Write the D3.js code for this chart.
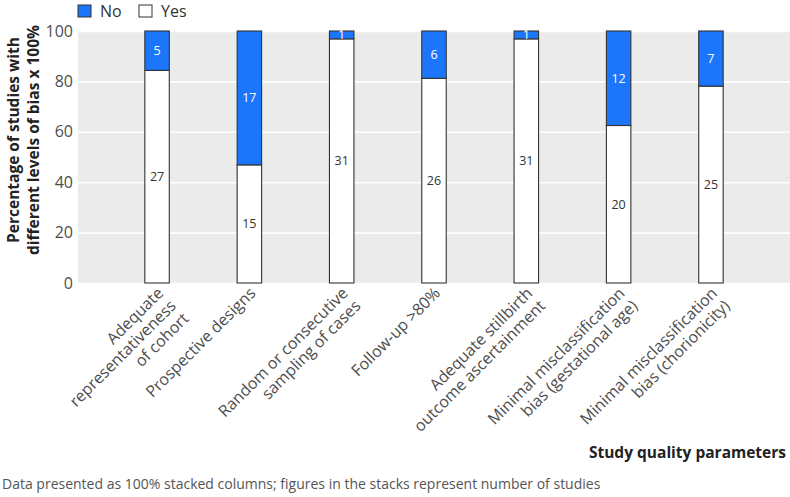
<!DOCTYPE html>
<html>
<head>
<meta charset="utf-8">
<script src="https://cdn.jsdelivr.net/npm/d3@7/dist/d3.min.js"></script>
<style>
  body { margin: 0; background: #fff; }
  svg { display: block; font-family: "Open Sans", sans-serif; }
</style>
</head>
<body>
<svg id="chart" width="790" height="497"></svg>
<script>
const categories = [
  ["Adequate", "representativeness", "of cohort"],
  ["Prospective designs"],
  ["Random or consecutive", "sampling of cases"],
  ["Follow-up >80%"],
  ["Adequate stillbirth", "outcome ascertainment"],
  ["Minimal misclassification", "bias (gestational age)"],
  ["Minimal misclassification", "bias (chorionicity)"]
];
const yesValues = [27, 15, 31, 26, 31, 20, 25];
const noValues = [5, 17, 1, 6, 1, 12, 7];
const yTicks = [0, 20, 40, 60, 80, 100];
const seriesNames = ["Yes", "No"];
const colors = { No: "#1b76fc", Yes: "#ffffff" };

const svg = d3.select("#chart");
const plot = { left: 78, right: 790, top: 31, bottom: 283 };

const rows = categories.map((c, i) => ({ key: i, Yes: yesValues[i], No: noValues[i] }));
const stacked = d3.stack().keys(seriesNames).offset(d3.stackOffsetExpand)(rows);

const x = d3.scaleBand()
  .domain(rows.map(d => d.key))
  .range([plot.left, plot.right])
  .paddingInner(0.735)
  .paddingOuter(0.724);
const y = d3.scaleLinear().domain([0, 100]).range([plot.bottom, plot.top]);

// background
svg.append("rect")
  .attr("x", plot.left).attr("y", plot.top)
  .attr("width", plot.right - plot.left).attr("height", plot.bottom - plot.top)
  .attr("fill", "#ebebeb");

// grid lines + y tick labels
const yAxis = d3.axisLeft(y).tickValues(yTicks).tickSize(-(plot.right - plot.left)).tickPadding(5).tickFormat(d3.format("d"));
const gy = svg.append("g").attr("transform", `translate(${plot.left},0)`).call(yAxis);
gy.select(".domain").remove();
gy.selectAll(".tick line").attr("stroke", "#fff").attr("stroke-width", 1.6);
gy.selectAll(".tick text").attr("font-size", 16).attr("fill", "#4d4d4d")
  .attr("font-family", "Open Sans, sans-serif");

// bars
const layers = svg.append("g").selectAll("g").data(stacked).join("g")
  .attr("fill", d => colors[d.key]);
layers.selectAll("rect").data(d => d).join("rect")
  .attr("x", d => x(d.data.key))
  .attr("width", x.bandwidth())
  .attr("y", d => y(d[1] * 100))
  .attr("height", d => y(d[0] * 100) - y(d[1] * 100))
  .attr("stroke", "#333")
  .attr("stroke-width", 1.1);

// segment labels
stacked.forEach(layer => {
  svg.append("g").selectAll("text").data(layer).join("text")
    .attr("x", d => x(d.data.key) + x.bandwidth() / 2)
    .attr("y", d => y((d[0] + d[1]) / 2 * 100))
    .attr("text-anchor", "middle")
    .attr("dominant-baseline", "central")
    .attr("font-size", 12.5)
    .attr("fill", layer.key === "No" ? "#fff" : "#333")
    .text(d => d.data[layer.key]);
});

// x axis labels
const xl = svg.append("g").selectAll("g").data(rows).join("g")
  .attr("transform", d => `translate(${x(d.key) + x.bandwidth() / 2 - 2},${plot.bottom + 2}) rotate(-45)`);
xl.each(function (d) {
  const g = d3.select(this);
  categories[d.key].forEach((line, j) => {
    g.append("text")
      .attr("x", 0)
      .attr("y", 13 + j * 18)
      .attr("text-anchor", "end")
      .attr("font-size", 16)
      .attr("fill", "#4d4d4d")
      .text(line);
  });
});

// y title
const yt = svg.append("g").attr("transform", "translate(0,140) rotate(-90)");
["Percentage of studies with", "different levels of bias x 100%"].forEach((t, i) => {
  yt.append("text").attr("x", 0).attr("y", 19 + i * 20)
    .attr("text-anchor", "middle").attr("font-weight", "bold").attr("font-size", 15.5)
    .attr("fill", "#222").text(t);
});

// x title
svg.append("text").attr("x", 786).attr("y", 458).attr("text-anchor", "end")
  .attr("font-weight", "bold").attr("font-size", 15.5).attr("fill", "#222")
  .text("Study quality parameters");

// footnote
svg.append("text").attr("x", 2).attr("y", 489)
  .attr("font-size", 14).attr("fill", "#555")
  .text("Data presented as 100% stacked columns; figures in the stacks represent number of studies");

// legend
const legendItems = ["No", "Yes"];
const lx = d3.scaleOrdinal().domain(legendItems).range([78, 139]);
const lg = svg.append("g").selectAll("g").data(legendItems).join("g")
  .attr("transform", d => `translate(${lx(d)},5)`);
lg.append("rect").attr("width", 13).attr("height", 12)
  .attr("fill", d => colors[d]).attr("stroke", "#333").attr("stroke-width", 1);
lg.append("text").attr("x", 22).attr("y", 11.5).attr("font-size", 16).attr("fill", "#333")
  .text(d => d);
</script>
</body>
</html>
